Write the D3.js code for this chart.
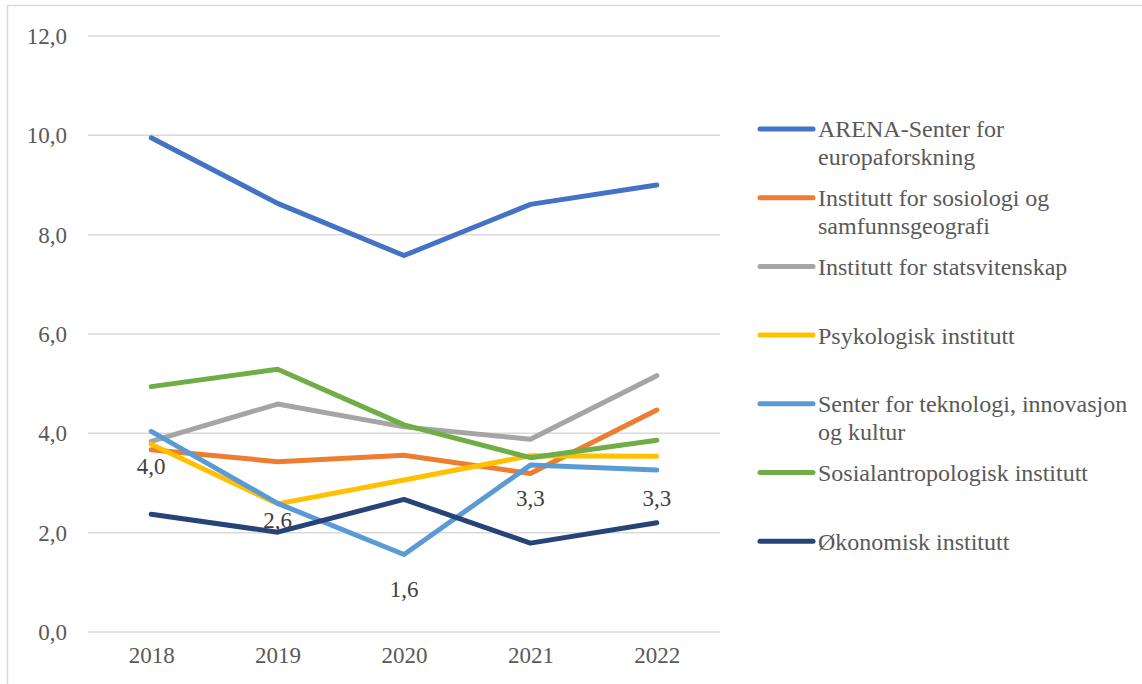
<!DOCTYPE html>
<html lang="en">
<head>
<meta charset="utf-8">
<style>
    body { margin: 0; background: #fff; }
    text { font-family: "Liberation Serif", "Times New Roman", serif; }
    .axis text { fill: #595959; font-size: 23px; }
    .grid line { stroke: #d9d9d9; stroke-width: 1.5; }
    .series { fill: none; stroke-width: 5; stroke-linecap: round; stroke-linejoin: round; }
    .lbl { fill: #404040; font-size: 23px; }
    .legend text { fill: #595959; font-size: 24px; }
</style>
<script src="https://cdn.jsdelivr.net/npm/d3@7"></script>
</head>
<body>
<svg id="chart" width="1142" height="684"></svg>
<script>
    // data
    var years = ["2018", "2019", "2020", "2021", "2022"];
    var arena = [9.95, 8.63, 7.58, 8.61, 9.0];
    var sosiologi = [3.67, 3.43, 3.56, 3.19, 4.47];
    var statsvitenskap = [3.84, 4.59, 4.13, 3.88, 5.16];
    var psykologisk = [3.78, 2.58, 3.06, 3.55, 3.54];
    var tik = [4.04, 2.59, 1.56, 3.36, 3.26];
    var sosialantropologisk = [4.94, 5.29, 4.17, 3.51, 3.86];
    var okonomisk = [2.37, 2.01, 2.67, 1.79, 2.20];
    var tikLabels = ["4,0", "2,6", "1,6", "3,3", "3,3"];
    var yTicks = [0, 2, 4, 6, 8, 10, 12];

    var series = [
        { name: ["ARENA-Senter for", "europaforskning"], values: arena, color: "#4472c4" },
        { name: ["Institutt for sosiologi og", "samfunnsgeografi"], values: sosiologi, color: "#ed7d31" },
        { name: ["Institutt for statsvitenskap"], values: statsvitenskap, color: "#a5a5a5" },
        { name: ["Psykologisk institutt"], values: psykologisk, color: "#ffc000" },
        { name: ["Senter for teknologi, innovasjon", "og kultur"], values: tik, color: "#5b9bd5" },
        { name: ["Sosialantropologisk institutt"], values: sosialantropologisk, color: "#70ad47" },
        { name: ["Økonomisk institutt"], values: okonomisk, color: "#264478" }
    ];

    var svg = d3.select("#chart");

    // chart frame (right/bottom edges fall outside the picture)
    svg.append("rect")
        .attr("x", 7.5).attr("y", 5.5)
        .attr("width", 1150).attr("height", 700)
        .attr("fill", "none").attr("stroke", "#d9d9d9").attr("stroke-width", 1.5);

    var plotLeft = 88, plotRight = 720, plotTop = 36, plotBottom = 632;

    var x = d3.scalePoint().domain(years).range([plotLeft, plotRight]).padding(0.5);
    var y = d3.scaleLinear().domain([0, 12]).range([plotBottom, plotTop]);

    // gridlines
    svg.append("g").attr("class", "grid")
        .selectAll("line").data(yTicks).enter().append("line")
        .attr("x1", plotLeft).attr("x2", plotRight)
        .attr("y1", function(d) { return y(d); })
        .attr("y2", function(d) { return y(d); });

    // y axis
    var yAxis = svg.append("g").attr("class", "axis")
        .attr("transform", "translate(" + (plotLeft - 21) + ",0)")
        .call(d3.axisLeft(y).tickValues(yTicks).tickSize(0).tickPadding(0)
            .tickFormat(function(d) { return d3.format(".1f")(d).replace(".", ","); }));
    yAxis.select(".domain").remove();

    // x axis
    var xAxis = svg.append("g").attr("class", "axis")
        .attr("transform", "translate(0," + (plotBottom + 14) + ")")
        .call(d3.axisBottom(x).tickSize(0).tickPadding(0));
    xAxis.select(".domain").remove();
    xAxis.selectAll("text").attr("dy", "0.75em");
    svg.selectAll(".axis text").style("font-family", "'Liberation Serif', serif").style("font-size", "23px");

    var line = d3.line()
        .x(function(d, i) { return x(years[i]); })
        .y(function(d) { return y(d); });

    svg.append("g").selectAll("path")
        .data(series).enter().append("path")
        .attr("class", "series")
        .attr("stroke", function(d) { return d.color; })
        .attr("d", function(d) { return line(d.values); });

    // data labels for the TIK series, placed below the points
    var labelShift = [35, 17, 34, 33, 28];
    svg.append("g").selectAll("text")
        .data(tik).enter().append("text")
        .attr("class", "lbl")
        .attr("text-anchor", "middle")
        .attr("dy", "0.35em")
        .attr("x", function(d, i) { return x(years[i]); })
        .attr("y", function(d, i) { return y(d) + labelShift[i]; })
        .text(function(d, i) { return tikLabels[i]; });

    // legend
    var legend = svg.append("g").attr("class", "legend");
    var legendTop = 129, legendStep = 68.7;
    series.forEach(function(s, i) {
        var ly = legendTop + i * legendStep;
        legend.append("line")
            .attr("x1", 760).attr("x2", 813)
            .attr("y1", ly).attr("y2", ly)
            .attr("stroke", s.color).attr("stroke-width", 5)
            .attr("stroke-linecap", "round");
        s.name.forEach(function(t, j) {
            legend.append("text")
                .attr("x", 818)
                .attr("y", ly + j * 28)
                .attr("dy", "0.35em")
                .text(t);
        });
    });
</script>
</body>
</html>
